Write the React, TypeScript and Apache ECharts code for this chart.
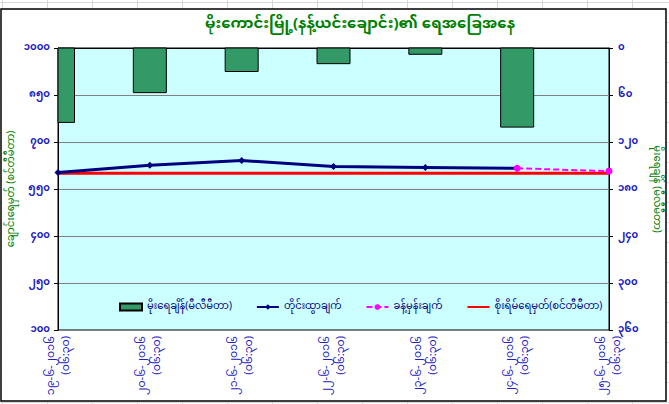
import React, { useEffect, useRef } from "react";
import * as echarts from "echarts";

const TITLE = "မိုးကောင်းမြို့(နန့်ယင်းချောင်း)၏ ရေအခြေအနေ";
const LEFT_AXIS_NAME = "ချောင်းရေမှတ် (စင်တီမီတာ)";
const RIGHT_AXIS_NAME = "မိုးရေချိန် (မီလီမီတာ)";

const categories = [
  "၁၉-၆-၂၀၁၆\n(၀၆:၃၀)",
  "၂၀-၆-၂၀၁၆\n(၀၆:၃၀)",
  "၂၁-၆-၂၀၁၆\n(၀၆:၃၀)",
  "၂၂-၆-၂၀၁၆\n(၀၆:၃၀)",
  "၂၃-၆-၂၀၁၆\n(၀၆:၃၀)",
  "၂၄-၆-၂၀၁၆\n(၀၆:၃၀)",
  "၂၅-၆-၂၀၁၆\n(၀၆:၃၀)",
];

const seriesNames = [
  "မိုးရေချိန်(မီလီမီတာ)",
  "တိုင်းထွာချက်",
  "ခန့်မှန်းချက်",
  "စိုးရိမ်ရေမှတ်(စင်တီမီတာ)",
];

const rainfall = [95, 57, 30, 20, 8, 101, null];
const measured = [603, 626, 641, 622, 619, 616, null];
const forecast = [null, null, null, null, null, 616, 607];
const danger = [600, 600, 600, 600, 600, 600, 600];

const leftTicks = [100, 250, 400, 550, 700, 850, 1000];

const MM_DIGITS = ["၀", "၁", "၂", "၃", "၄", "၅", "၆", "၇", "၈", "၉"];
const toMM = (v: number | string) =>
  String(v).replace(/[0-9]/g, (d) => MM_DIGITS[Number(d)]);

const FONT = "'Noto Sans Myanmar', 'Padauk', 'Myanmar Text', 'Noto Sans', sans-serif";
const BLUE = "#2020C0";
const GREEN = "#008000";
const BAR_WIDTH = 33;

export default function App() {
  const ref = useRef<HTMLDivElement>(null);
  useEffect(() => {
    if (!ref.current) return;
    const chart = echarts.init(ref.current, null, { renderer: "svg", width: 669, height: 404 });
    const rainData = rainfall
      .map((v, i) => (v == null ? null : [i, v]))
      .filter((d) => d != null);
    chart.setOption({
      animation: false,
      backgroundColor: "transparent",
      textStyle: { fontFamily: FONT },
      graphic: [
        {
          type: "rect",
          z: -10,
          silent: true,
          shape: { x: 1, y: 9, width: 665, height: 392 },
          style: { fill: "#ffffff", stroke: "#000000", lineWidth: 1.5 },
        },
      ],
      title: {
        text: TITLE,
        left: 355,
        textAlign: "center",
        top: 12,
        textStyle: { color: GREEN, fontSize: 15, fontWeight: "bold", fontFamily: FONT },
      },
      legend: {
        left: 114,
        top: 297,
        itemGap: 24,
        itemWidth: 22,
        itemHeight: 7,
        data: [
          { name: seriesNames[0], icon: "rect" },
          { name: seriesNames[1] },
          { name: seriesNames[2] },
          { name: seriesNames[3], itemStyle: { opacity: 0 } },
        ],
        textStyle: { color: "#000080", fontSize: 10, fontFamily: FONT },
      },
      grid: {
        left: 58,
        top: 48,
        width: 551,
        height: 282,
        show: true,
        containLabel: false,
        outerBoundsMode: "none",
        backgroundColor: "#CCFFFF",
        borderColor: "#000000",
        borderWidth: 1,
      },
      xAxis: {
        type: "category",
        data: categories,
        boundaryGap: false,
        axisLine: { lineStyle: { color: "#000000" } },
        axisTick: { show: true, length: 4, lineStyle: { color: "#000000" } },
        axisLabel: {
          rotate: 90,
          interval: 0,
          color: BLUE,
          fontSize: 11,
          fontFamily: FONT,
          lineHeight: 15,
          margin: 6,
        },
      },
      yAxis: [
        {
          type: "value",
          min: 100,
          max: 1000,
          name: LEFT_AXIS_NAME,
          nameLocation: "middle",
          nameRotate: 90,
          nameGap: 41,
          nameMoveOverlap: false,
          nameTextStyle: { color: GREEN, fontSize: 10, fontFamily: FONT },
          axisLine: { show: true, lineStyle: { color: "#000000" } },
          axisTick: {
            show: true,
            length: 4,
            customValues: leftTicks,
            lineStyle: { color: "#000000" },
          },
          axisLabel: {
            customValues: leftTicks,
            color: BLUE,
            fontSize: 10,
            fontWeight: "bold",
            fontFamily: FONT,
            margin: 8,
            formatter: (v: number) => toMM(v),
          },
          splitLine: { show: true, lineStyle: { color: "#808080", width: 1 } },
        },
        {
          type: "value",
          min: 0,
          max: 360,
          interval: 60,
          inverse: true,
          position: "right",
          name: RIGHT_AXIS_NAME,
          nameLocation: "middle",
          nameRotate: -90,
          nameGap: 42,
          nameMoveOverlap: false,
          nameTextStyle: { color: GREEN, fontSize: 10, fontFamily: FONT },
          axisLine: { show: true, lineStyle: { color: "#000000" } },
          axisTick: { show: true, length: 4, inside: false, lineStyle: { color: "#000000" } },
          axisLabel: {
            color: BLUE,
            fontSize: 10,
            fontWeight: "bold",
            fontFamily: FONT,
            margin: 9,
            formatter: (v: number) => toMM(v),
          },
          splitLine: { show: false },
        },
      ],
      series: [
        {
          name: seriesNames[0],
          type: "custom",
          yAxisIndex: 1,
          data: rainData,
          encode: { x: 0, y: 1 },
          itemStyle: { color: "#339966", borderColor: "#000000", borderWidth: 1 },
          z: 1,
          renderItem: (params: any, api: any) => {
            const idx = api.value(0);
            const v = api.value(1);
            const p0 = api.coord([idx, 0]);
            const p1 = api.coord([idx, v]);
            const cs = params.coordSys;
            const shape = echarts.graphic.clipRectByRect(
              { x: p0[0] - BAR_WIDTH / 2, y: p0[1], width: BAR_WIDTH, height: p1[1] - p0[1] },
              { x: cs.x, y: cs.y, width: cs.width, height: cs.height }
            );
            if (!shape) return null;
            return {
              type: "rect",
              shape,
              style: { fill: "#339966", stroke: "#000000", lineWidth: 1 },
            };
          },
        },
        {
          name: seriesNames[1],
          type: "line",
          yAxisIndex: 0,
          data: measured,
          symbol: "diamond",
          symbolSize: 7,
          lineStyle: { color: "#000080", width: 3 },
          itemStyle: { color: "#000080" },
          z: 4,
        },
        {
          name: seriesNames[2],
          type: "line",
          yAxisIndex: 0,
          data: forecast,
          symbol: "circle",
          symbolSize: 7,
          lineStyle: { color: "#FF00FF", width: 2, type: [6, 3] },
          itemStyle: { color: "#FF00FF" },
          z: 5,
        },
        {
          name: seriesNames[3],
          type: "line",
          yAxisIndex: 0,
          data: danger,
          symbol: "none",
          lineStyle: { color: "#FF0000", width: 3 },
          itemStyle: { color: "#FF0000" },
          z: 3,
        },
      ],
    });
    return () => chart.dispose();
  }, []);

  const gridBg = {
    backgroundColor: "#ffffff",
    backgroundImage:
      "repeating-linear-gradient(to right, transparent 0px, transparent 2px, #d9d9d9 2px, #d9d9d9 3px, transparent 3px, transparent 45px), repeating-linear-gradient(to bottom, transparent 0px, transparent 2px, #d9d9d9 2px, #d9d9d9 3px, transparent 3px, transparent 20px)",
  };

  return (
    <div
      style={{ position: "absolute", left: 0, top: 0, width: 669, height: 404, ...gridBg }}
    >
      <div ref={ref} style={{ width: 669, height: 404 }} />
    </div>
  );
}
